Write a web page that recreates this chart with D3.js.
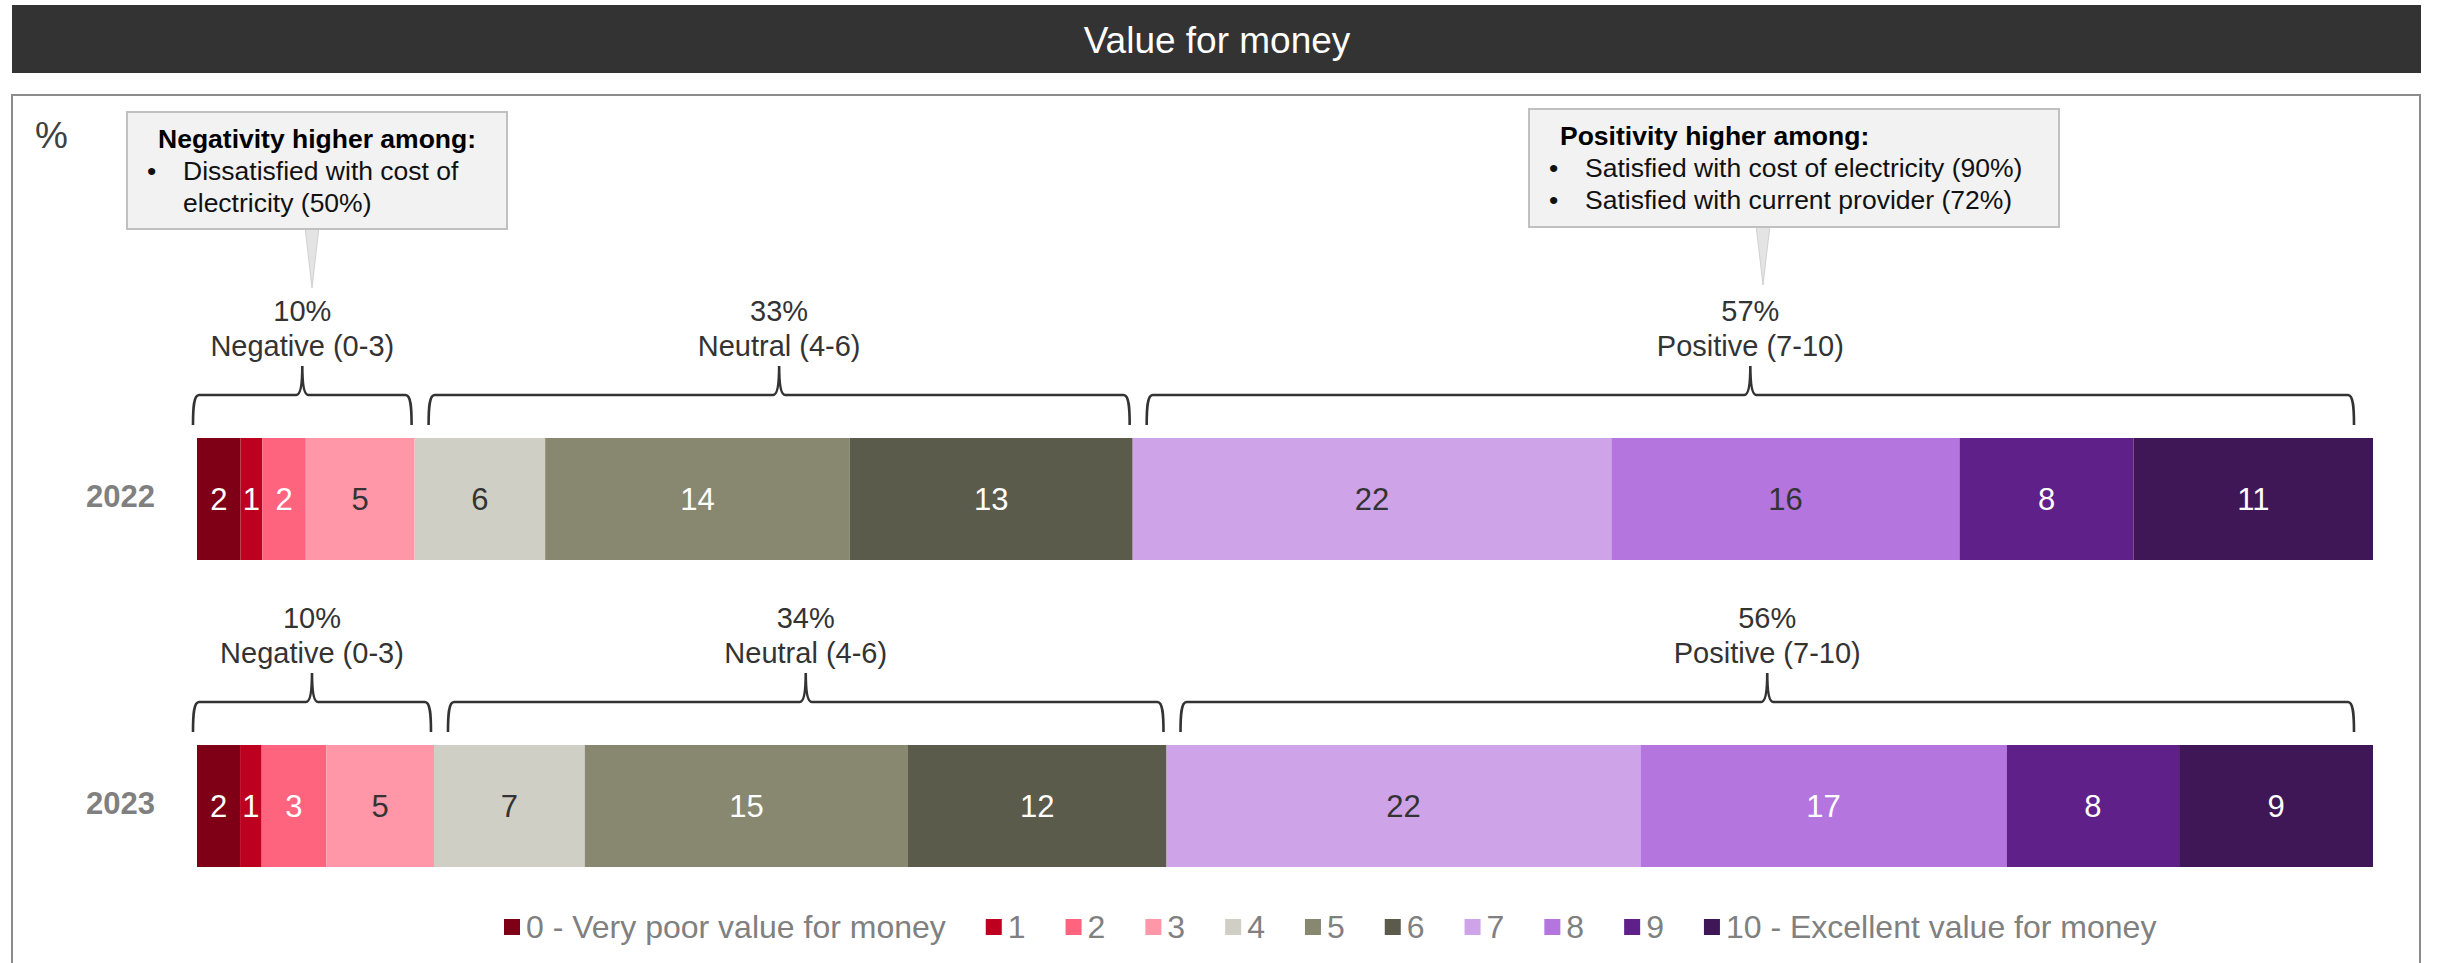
<!DOCTYPE html>
<html lang="en">
<head>
<meta charset="UTF-8">
<title>Value for money</title>
<style>
  body { margin: 0; background: #fff; }
  text { font-family: "Liberation Sans", Arial, sans-serif; }
</style>
</head>
<body>
<script src="https://d3js.org/d3.v7.min.js"></script>
<script>
// data
var categories = ["0 - Very poor value for money", "1", "2", "3", "4", "5", "6", "7", "8", "9", "10 - Excellent value for money"];
var years = ["2022", "2023"];
var values2022 = [2, 1, 2, 5, 6, 14, 13, 22, 16, 8, 11];
var values2023 = [2, 1, 3, 5, 7, 15, 12, 22, 17, 8, 9];

var groupNames = ["Negative (0-3)", "Neutral (4-6)", "Positive (7-10)"];
var groupFirst = [0, 4, 7];
var groupLast = [3, 6, 10];
var groupPct2022 = [10, 33, 57];
var groupPct2023 = [10, 34, 56];

var negTitle = "Negativity higher among:";
var negBullets = [["Dissatisfied with cost of", "electricity (50%)"]];
var posTitle = "Positivity higher among:";
var posBullets = [["Satisfied with cost of electricity (90%)"], ["Satisfied with current provider (72%)"]];

// styles
var colors = ["#7f0016", "#be0020", "#ff647e", "#ff97a8", "#cfcfc6", "#888870", "#5b5b4b", "#cfa3e8", "#b475df", "#602089", "#3f1757"];
var darkLabel = [false, false, false, true, true, false, false, true, false, false, false];
var darkExtra = {"2022-8": true};  // the 16 in 2022 is printed dark

var rows = years.map(function(y, i) {
  return {year: y, values: i == 0 ? values2022 : values2023, pct: i == 0 ? groupPct2022 : groupPct2023};
});

var W = 2440, H = 963;
var svg = d3.select("body").append("svg").attr("width", W).attr("height", H);

// header bar
svg.append("rect").attr("x", 12).attr("y", 5).attr("width", 2409).attr("height", 68).attr("fill", "#333333");
svg.append("text").attr("x", 1217).attr("y", 53).attr("text-anchor", "middle")
  .attr("font-size", "37px").attr("fill", "#fff").text("Value for money");

// panel frame
svg.append("rect").attr("x", 12).attr("y", 95).attr("width", 2408).attr("height", 900)
  .attr("fill", "none").attr("stroke", "#8c8c8c").attr("stroke-width", 2);

svg.append("text").attr("x", 35).attr("y", 148).attr("font-size", "37px").attr("fill", "#404040").text("%");

var yscale = d3.scaleBand().domain(years).range([438, 867]).paddingInner(0.6026);
var x0 = 197, x1 = 2373;

// brace insets (left, right) per group, as hand placed in the original
var insetL = [-4, 14, 14], insetR = [3, 3, 19];

rows.forEach(function(row) {
  var total = d3.sum(row.values);
  var xscale = d3.scaleLinear().domain([0, total]).range([x0, x1]);
  var stack = [];
  var acc = 0;
  row.values.forEach(function(v, i) {
    stack.push({i: i, v: v, s: acc, e: acc + v});
    acc += v;
  });
  var top = yscale(row.year), bh = yscale.bandwidth();
  var g = svg.append("g");

  g.selectAll("rect").data(stack).enter().append("rect")
    .attr("x", function(d) { return xscale(d.s); })
    .attr("y", top)
    .attr("width", function(d) { return xscale(d.e) - xscale(d.s); })
    .attr("height", bh)
    .attr("fill", function(d) { return colors[d.i]; });

  g.selectAll("text.val").data(stack).enter().append("text")
    .attr("class", "val")
    .attr("x", function(d) { return (xscale(d.s) + xscale(d.e)) / 2; })
    .attr("y", top + bh / 2 + 11)
    .attr("text-anchor", "middle")
    .attr("font-size", "31px")
    .attr("fill", function(d) { return (darkLabel[d.i] || darkExtra[row.year + "-" + d.i]) ? "#333" : "#fff"; })
    .text(function(d) { return d.v; });

  svg.append("text").attr("x", 155).attr("y", top + bh / 2 + 8)
    .attr("text-anchor", "end").attr("font-size", "31px").attr("font-weight", "bold")
    .attr("fill", "#808080").text(row.year);

  // braces over each group
  var lineY = top - 43, legY = top - 13, pipY = top - 72;
  groupNames.forEach(function(name, k) {
    var a = xscale(stack[groupFirst[k]].s) + insetL[k];
    var b = xscale(stack[groupLast[k]].e) - insetR[k];
    var m = (a + b) / 2;
    var p = "M" + a + "," + legY +
      " C" + a + "," + (legY - 16) + " " + (a + 0.5) + "," + lineY + " " + (a + 6) + "," + lineY +
      " L" + (m - 6) + "," + lineY +
      " Q" + m + "," + lineY + " " + m + "," + pipY +
      " Q" + m + "," + lineY + " " + (m + 6) + "," + lineY +
      " L" + (b - 6) + "," + lineY +
      " C" + (b - 0.5) + "," + lineY + " " + b + "," + (legY - 16) + " " + b + "," + legY;
    svg.append("path").attr("d", p).attr("fill", "none").attr("stroke", "#333").attr("stroke-width", 2.6);
    svg.append("text").attr("x", m).attr("y", top - 117).attr("text-anchor", "middle")
      .attr("font-size", "29px").attr("fill", "#333").text(row.pct[k] + "%");
    svg.append("text").attr("x", m).attr("y", top - 82).attr("text-anchor", "middle")
      .attr("font-size", "29px").attr("fill", "#333").text(name);
  });
});

// callout boxes
function callout(bx, by, bw, bh, tipX, tipY, title, bullets) {
  var g = svg.append("g");
  g.append("path")
    .attr("d", "M" + (tipX - 7) + "," + (by + bh - 2) + " L" + tipX + "," + tipY + " L" + (tipX + 7) + "," + (by + bh - 2) + "Z")
    .attr("fill", "#e4e4e4").attr("stroke", "#d0d0d0").attr("stroke-width", 1);
  g.append("rect").attr("x", bx).attr("y", by).attr("width", bw).attr("height", bh)
    .attr("fill", "#f2f2f2").attr("stroke", "#c0c0c0").attr("stroke-width", 2);
  g.append("text").attr("x", bx + 31).attr("y", by + 36).attr("font-size", "26.5px")
    .attr("font-weight", "bold").attr("fill", "#000").text(title);
  var line = 1;
  bullets.forEach(function(b) {
    g.append("text").attr("x", bx + 20).attr("y", by + 36 + line * 32).attr("font-size", "26.5px").attr("fill", "#111").text("\u2022");
    b.forEach(function(t) {
      g.append("text").attr("x", bx + 56).attr("y", by + 36 + line * 32).attr("font-size", "26.5px").attr("fill", "#111").text(t);
      line++;
    });
  });
}
callout(127, 112, 380, 117, 312, 288, negTitle, negBullets);
callout(1529, 109, 530, 118, 1763, 285, posTitle, posBullets);

// legend
var lg = svg.append("g");
var lx = 504;
categories.forEach(function(c, i) {
  lg.append("rect").attr("x", lx).attr("y", 919).attr("width", 16).attr("height", 16).attr("fill", colors[i]);
  var t = lg.append("text").attr("x", lx + 22).attr("y", 938).attr("font-size", "32px").attr("fill", "#808080").text(c);
  lx += 22 + t.node().getComputedTextLength() + 40;
});
</script>
</body>
</html>
